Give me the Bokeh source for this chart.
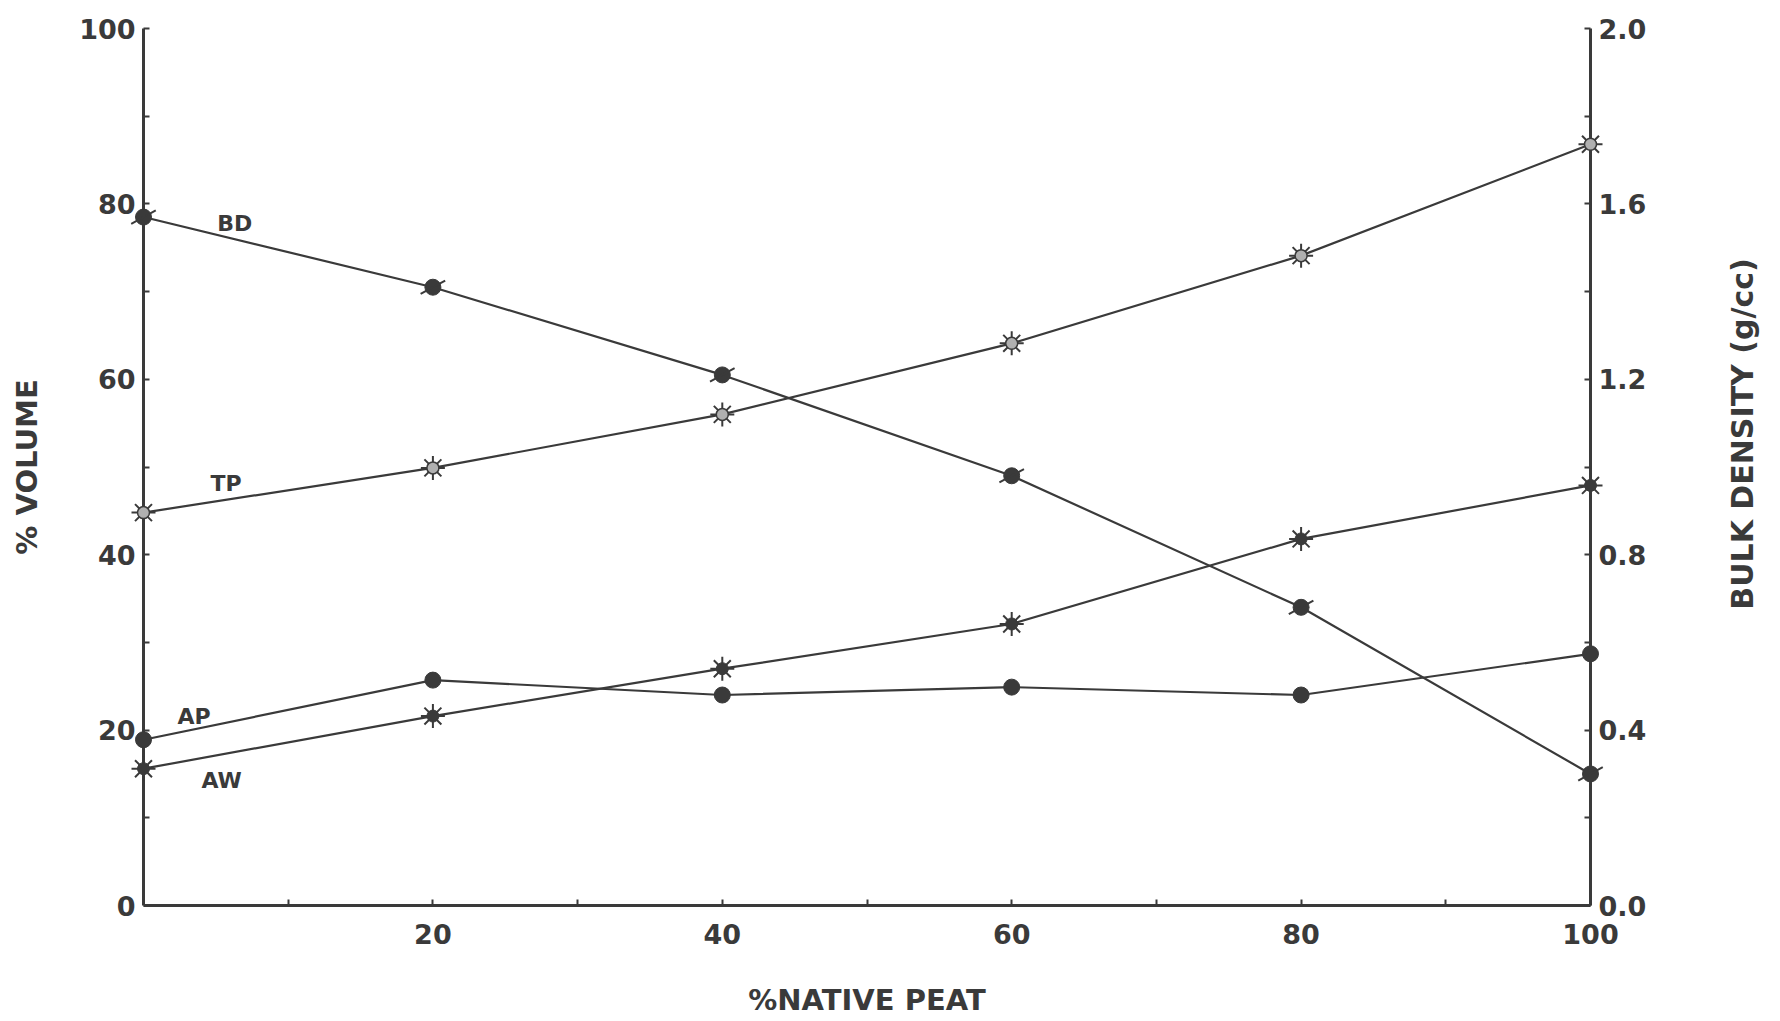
import math
from bokeh.plotting import figure
from bokeh.layouts import row
from bokeh.models import (LinearAxis, Range1d, FixedTicker, PrintfTickFormatter,
                          Label)
from bokeh.embed import file_html
from bokeh.resources import INLINE

# % native peat in the mix
native_peat = [0, 20, 40, 60, 80, 100]

# % volume series
total_porosity = [44.8, 49.9, 56.0, 64.1, 74.1, 86.8]   # TP
air_porosity = [18.9, 25.7, 24.0, 24.9, 24.0, 28.7]     # AP
available_water = [15.6, 21.6, 27.0, 32.1, 41.8, 47.9]  # AW

# bulk density, g/cc (right axis)
bulk_density = [1.57, 1.41, 1.21, 0.98, 0.68, 0.30]     # BD

left_ticks = [0, 20, 40, 60, 80, 100]
left_minor = [10, 30, 50, 70, 90]
right_ticks = [0.0, 0.4, 0.8, 1.2, 1.6, 2.0]
right_minor = [0.2, 0.6, 1.0, 1.4, 1.8]
bottom_ticks = [20, 40, 60, 80, 100]
bottom_minor = [10, 30, 50, 70, 90]

INK = "#3a3a3a"
PAPER = "#ffffff"
FONT = "DejaVu Sans"

H = 1021
MAIN_W = 1700
SIDE_W = 80

p = figure(width=MAIN_W, height=H, output_backend="svg", toolbar_location=None,
           x_range=Range1d(0, 100), y_range=Range1d(0, 100),
           min_border_left=143, min_border_right=MAIN_W - 1590,
           min_border_top=28, min_border_bottom=116,
           background_fill_color=PAPER, border_fill_color=PAPER)
p.outline_line_color = None
p.xgrid.visible = False
p.ygrid.visible = False
p.extra_y_ranges = {"bd": Range1d(0, 2.0)}


def style_axis(ax, ticks, minor):
    ax.ticker = FixedTicker(ticks=ticks, minor_ticks=minor)
    ax.axis_line_color = INK
    ax.axis_line_width = 3
    ax.major_tick_line_color = INK
    ax.minor_tick_line_color = INK
    ax.major_tick_line_width = 2
    ax.minor_tick_line_width = 2
    ax.major_tick_in = 6
    ax.major_tick_out = 0
    ax.minor_tick_in = 6
    ax.minor_tick_out = 0
    ax.major_label_text_font = FONT
    ax.major_label_text_font_style = "bold"
    ax.major_label_text_font_size = "27px"
    ax.major_label_text_color = INK
    ax.axis_label_text_font = FONT
    ax.axis_label_text_font_style = "bold"
    ax.axis_label_text_font_size = "29px"
    ax.axis_label_text_color = INK


xa = p.xaxis[0]
style_axis(xa, bottom_ticks, bottom_minor)
xa.axis_label = "%NATIVE PEAT"
xa.major_label_standoff = 18
xa.axis_label_standoff = 36

ya = p.yaxis[0]
style_axis(ya, left_ticks, left_minor)
ya.axis_label = "% VOLUME"
ya.major_label_standoff = 8
ya.axis_label_standoff = 32

ra = LinearAxis(y_range_name="bd")
style_axis(ra, right_ticks, right_minor)
ra.formatter = PrintfTickFormatter(format="%.1f")
ra.major_label_standoff = 8
p.add_layout(ra, "right")

LINE_W = 2.2
marker_renderers = []

# BD on the density scale
p.line(native_peat, bulk_density, y_range_name="bd", line_color=INK, line_width=LINE_W)
marker_renderers.append(p.scatter(native_peat, bulk_density, y_range_name="bd",
                                  marker="circle", size=16, fill_color=INK, line_color=INK))
marker_renderers.append(p.scatter(native_peat, bulk_density, y_range_name="bd",
                                  marker="dash", size=28, angle=0.5,
                                  line_color=INK, line_width=2))

# TP
p.line(native_peat, total_porosity, line_color=INK, line_width=LINE_W)
marker_renderers.append(p.scatter(native_peat, total_porosity, marker="asterisk", size=24,
                                  line_color=INK, line_width=2))
marker_renderers.append(p.scatter(native_peat, total_porosity, marker="circle", size=12,
                                  fill_color="#b0b0b0", line_color=INK, line_width=1.5))

# AP
p.line(native_peat, air_porosity, line_color=INK, line_width=LINE_W)
marker_renderers.append(p.scatter(native_peat, air_porosity, marker="circle", size=16,
                                  fill_color=INK, line_color=INK))

# AW
p.line(native_peat, available_water, line_color=INK, line_width=LINE_W)
marker_renderers.append(p.scatter(native_peat, available_water, marker="asterisk", size=24,
                                  line_color=INK, line_width=2))
marker_renderers.append(p.scatter(native_peat, available_water, marker="circle", size=12,
                                  fill_color=INK, line_color=INK))

# markers sit on top of the axis lines
for r in marker_renderers:
    r.level = "overlay"

# series names next to the first points
series_labels = [("BD", 6.3, 77.8), ("TP", 5.7, 48.1), ("AP", 3.5, 21.6), ("AW", 5.4, 14.3)]
for name, lx, ly in series_labels:
    p.add_layout(Label(x=lx, y=ly, text=name, text_font=FONT,
                       text_font_style="bold", text_font_size="22px",
                       text_color=INK, text_align="center",
                       text_baseline="middle"))

# narrow strip carrying the density title, reading bottom to top
side = figure(width=SIDE_W, height=H, output_backend="svg", toolbar_location=None,
              x_range=Range1d(0, SIDE_W), y_range=Range1d(0, H),
              x_axis_location=None, y_axis_location=None,
              min_border=0, background_fill_color=PAPER, border_fill_color=PAPER)
side.outline_line_color = None
side.xgrid.visible = False
side.ygrid.visible = False
side.add_layout(Label(x=42, y=H - 466, text="BULK DENSITY  (g/cc)", angle=math.pi / 2,
                      text_font=FONT, text_font_style="bold", text_font_size="30px",
                      text_color=INK, text_align="center", text_baseline="middle"))

layout = row(p, side, spacing=0)
open("out.html", "w").write(file_html(layout, INLINE))
